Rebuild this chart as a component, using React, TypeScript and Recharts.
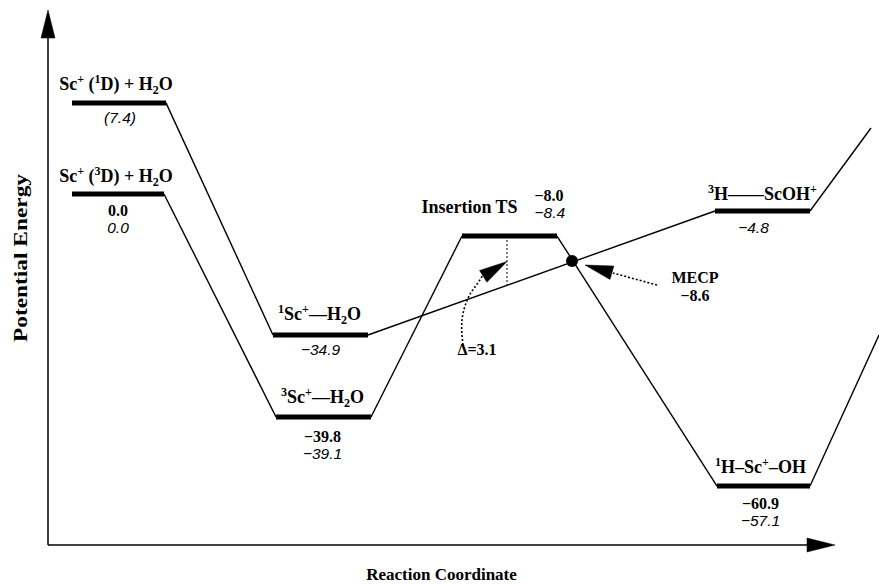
import React from 'react';
import { ComposedChart, Line, Scatter, XAxis, YAxis } from 'recharts';

const CHART_W = 879;
const CHART_H = 584;
const SERIF = '"Liberation Serif", "Times New Roman", serif';
const SANS = '"Liberation Sans", Arial, sans-serif';

// ---- Data (x: reaction coordinate position, y: drawn energy height) ----
const X_MAX = 83.1;
const Y_MIN = -73.2;
const Y_MAX = 40.46;

const levelNames = [
  'Sc^{+} (^{1}D) + H_{2}O',
  'Sc^{+} (^{3}D) + H_{2}O',
  '^{1}Sc^{+}—H_{2}O',
  '^{3}Sc^{+}—H_{2}O',
  'Insertion TS',
  '^{3}H——ScOH^{+}',
  '^{1}H–Sc^{+}–OH',
];
const levelStart = [2.4, 2.4, 22.5, 22.8, 41.4, 66.7, 66.9];
const levelEnd = [11.8, 11.6, 32.0, 32.3, 50.9, 76.2, 76.2];
const levelHeight = [19.0, 0, -29.4, -46.5, -8.76, -3.55, -60.9];
const energyBold = ['', '0.0', '', '−39.8', '−8.0', '', '−60.9'];
const energyItalic = ['(7.4)', '0.0', '−34.9', '−39.1', '−8.4', '−4.8', '−57.1'];

// connections between levels (right end of "from" to left end of "to")
const pathFrom = [0, 1, 2, 3, 4];
const pathTo = [2, 3, 5, 4, 6];
// lines leaving the picture on the right
const exitFrom = [5, 6];
const exitX = [82.3, 83.1];
const exitY = [13.76, -29.41];

// MECP crossing point
const mecpX = [52.4];
const mecpY = [-13.97];

// dotted curve of the Δ pointer
const deltaCurveX = [41.5, 41.4, 42.0, 42.7, 43.5];
const deltaCurveY = [-31.49, -26.28, -21.69, -19.39, -16.89];
// dotted MECP pointer
const mecpPointerX = [60.9, 56.5];
const mecpPointerY = [-18.98, -16.48];
// vertical dashed Δ marker
const deltaMarkX = [45.9, 45.9];
const deltaMarkY = [-8.76, -18.98];

// axis arrows
const axisEndX = 78.7;
const axisTopY = 38.37;

// arrow heads: tip positions
const arrowX = [0, axisEndX, 45.9, 53.7];
const arrowY = [axisTopY, Y_MIN, -14.08, -14.81];

// free annotations
const annotationText = ['Δ=3.1', 'MECP', '−8.6'];
const annotationX = [42.9, 64.7, 64.7];
const annotationY = [-33.58, -18.56, -22.31];

// ---- Styles ----
const arrowAngle = [-90, 0, -32, 196];
const labelStyle = [
  { nameDx: -3, nameDy: -13, valDx: 1, boldDy: 0, italicDy: 20, anchor: 'middle' },
  { nameDx: -2, nameDy: -12, valDx: 0, boldDy: 22, italicDy: 39, anchor: 'middle' },
  { nameDx: -1, nameDy: -15, valDx: 0, boldDy: 0, italicDy: 20, anchor: 'middle' },
  { nameDx: -1, nameDy: -14, valDx: -1, boldDy: 25, italicDy: 42, anchor: 'middle' },
  { nameDx: -40, nameDy: -23, valDx: 25, boldDy: -35, italicDy: -18, anchor: 'start' },
  { nameDx: 0, nameDy: -11, valDx: -9, boldDy: 0, italicDy: 22, anchor: 'middle' },
  { nameDx: -3, nameDy: -13, valDx: -3, boldDy: 23, italicDy: 40, anchor: 'middle' },
];

function rich(s: string, supSize = 12) {
  const parts = s.split(/(\^\{[^}]*\}|_\{[^}]*\})/).filter((p) => p.length > 0);
  let cur = 0;
  return parts.map((p, i) => {
    let target = 0;
    let text = p;
    let size: number | undefined = undefined;
    if (p.startsWith('^{')) {
      target = -7;
      text = p.slice(2, -1);
      size = supSize;
    } else if (p.startsWith('_{')) {
      target = 4;
      text = p.slice(2, -1);
      size = supSize;
    }
    const dy = target - cur;
    cur = target;
    return (
      <tspan key={i} dy={dy} style={size ? { fontSize: size } : undefined}>
        {text}
      </tspan>
    );
  });
}

const levels = levelNames.map((name, i) => ({
  x: (levelStart[i] + levelEnd[i]) / 2,
  y: levelHeight[i],
  name,
  bold: energyBold[i],
  italic: energyItalic[i],
  idx: i,
}));

const serifBold = (size: number) => ({
  fontFamily: SERIF,
  fontWeight: 'bold' as const,
  fontSize: size,
  fill: '#000',
});

const LevelLabel = (props: any) => {
  const { cx, cy } = props;
  const d = props.payload ?? props;
  const st = labelStyle[d.idx];
  return (
    <g>
      <text
        x={cx + st.nameDx}
        y={cy + st.nameDy}
        textAnchor="middle"
        style={{ ...serifBold(18), whiteSpace: 'pre' }}
      >
        {rich(d.name)}
      </text>
      {d.bold ? (
        <text x={cx + st.valDx} y={cy + st.boldDy} textAnchor={st.anchor} style={serifBold(16)}>
          {d.bold}
        </text>
      ) : null}
      {d.italic ? (
        <text
          x={cx + st.valDx}
          y={cy + st.italicDy}
          textAnchor={st.anchor}
          style={{ fontFamily: SANS, fontStyle: 'italic', fontSize: 15.5, fill: '#000' }}
        >
          {d.italic}
        </text>
      ) : null}
    </g>
  );
};

const arrows = arrowX.map((x, i) => ({ x, y: arrowY[i], idx: i }));

const ArrowHead = (props: any) => {
  const { cx, cy } = props;
  const d = props.payload ?? props;
  const a = (arrowAngle[d.idx] * Math.PI) / 180;
  const L = 28;
  const hw = 7;
  const bx = cx - L * Math.cos(a);
  const by = cy - L * Math.sin(a);
  const px = -Math.sin(a) * hw;
  const py = Math.cos(a) * hw;
  return (
    <polygon
      points={`${cx},${cy} ${bx + px},${by + py} ${bx - px},${by - py}`}
      fill="#000"
      stroke="#000"
      strokeWidth={0.5}
    />
  );
};

const annotations = annotationText.map((t, i) => ({ x: annotationX[i], y: annotationY[i], t }));

const Annotation = (props: any) => {
  const { cx, cy } = props;
  const d = props.payload ?? props;
  return (
    <text x={cx} y={cy} textAnchor="middle" style={serifBold(16)}>
      {d.t}
    </text>
  );
};

const MecpDot = (props: any) => <circle cx={props.cx} cy={props.cy} r={6} fill="#000" />;

const xTitle = (p: any) => {
  const vb = p.viewBox;
  const cx = vb.x + (vb.width * (axisEndX / X_MAX)) / 2;
  return (
    <text x={cx} y={vb.y + 35} textAnchor="middle" style={serifBold(17)}>
      Reaction Coordinate
    </text>
  );
};

const yTitle = (p: any) => {
  const vb = p.viewBox;
  const x = vb.x + 20;
  const y = vb.y + 258;
  return (
    <text
      x={x}
      y={y}
      transform={`rotate(-90, ${x}, ${y})`}
      textAnchor="middle"
      dominantBaseline="central"
      textLength={168}
      lengthAdjust="spacingAndGlyphs"
      style={serifBold(19)}
    >
      Potential Energy
    </text>
  );
};

export default function App() {
  const seg = (x1: number, y1: number, x2: number, y2: number) => [
    { x: x1, y: y1 },
    { x: x2, y: y2 },
  ];
  return (
    <div style={{ position: 'absolute', left: 0, top: 0, width: CHART_W, height: CHART_H, background: '#fff' }}>
      <ComposedChart width={CHART_W} height={CHART_H} margin={{ top: 0, right: 0, bottom: 0, left: 0 }}>
        <XAxis
          type="number"
          dataKey="x"
          domain={[0, X_MAX]}
          height={39}
          tick={false}
          tickLine={false}
          axisLine={false}
          label={{ value: 'Reaction Coordinate', content: xTitle }}
        />
        <YAxis
          type="number"
          dataKey="y"
          domain={[Y_MIN, Y_MAX]}
          width={48}
          tick={false}
          tickLine={false}
          axisLine={false}
          label={{ value: 'Potential Energy', content: yTitle }}
        />

        {/* axes */}
        <Line data={seg(0, Y_MIN, 0, axisTopY - 3)} dataKey="y" stroke="#000" strokeWidth={1.5} dot={false} isAnimationActive={false} />
        <Line data={seg(0, Y_MIN, axisEndX - 1, Y_MIN)} dataKey="y" stroke="#000" strokeWidth={1.5} dot={false} isAnimationActive={false} />

        {/* connecting lines */}
        {pathFrom.map((f, i) => (
          <Line
            key={`c${i}`}
            data={seg(levelEnd[f], levelHeight[f], levelStart[pathTo[i]], levelHeight[pathTo[i]])}
            dataKey="y"
            stroke="#000"
            strokeWidth={1.4}
            dot={false}
            isAnimationActive={false}
          />
        ))}
        {exitFrom.map((f, i) => (
          <Line
            key={`e${i}`}
            data={seg(levelEnd[f], levelHeight[f], exitX[i], exitY[i])}
            dataKey="y"
            stroke="#000"
            strokeWidth={1.4}
            dot={false}
            isAnimationActive={false}
          />
        ))}

        {/* dotted / dashed pointers */}
        <Line
          data={deltaMarkX.map((x, i) => ({ x, y: deltaMarkY[i] }))}
          dataKey="y"
          stroke="#000"
          strokeWidth={1}
          strokeDasharray="2 2"
          dot={false}
          isAnimationActive={false}
        />
        <Line
          data={deltaCurveX.map((x, i) => ({ x, y: deltaCurveY[i] }))}
          dataKey="y"
          type="natural"
          stroke="#000"
          strokeWidth={1.6}
          strokeDasharray="2 2"
          dot={false}
          isAnimationActive={false}
        />
        <Line
          data={mecpPointerX.map((x, i) => ({ x, y: mecpPointerY[i] }))}
          dataKey="y"
          stroke="#000"
          strokeWidth={1.6}
          strokeDasharray="2 2"
          dot={false}
          isAnimationActive={false}
        />

        {/* energy levels */}
        {levelStart.map((x1, i) => (
          <Line
            key={`l${i}`}
            data={seg(x1, levelHeight[i], levelEnd[i], levelHeight[i])}
            dataKey="y"
            stroke="#000"
            strokeWidth={5}
            strokeLinecap="butt"
            dot={false}
            isAnimationActive={false}
          />
        ))}

        <Scatter data={mecpX.map((x, i) => ({ x, y: mecpY[i] }))} shape={MecpDot} isAnimationActive={false} />
        <Scatter data={arrows} shape={ArrowHead} isAnimationActive={false} />
        <Scatter data={levels} shape={LevelLabel} isAnimationActive={false} />
        <Scatter data={annotations} shape={Annotation} isAnimationActive={false} />
      </ComposedChart>
    </div>
  );
}
